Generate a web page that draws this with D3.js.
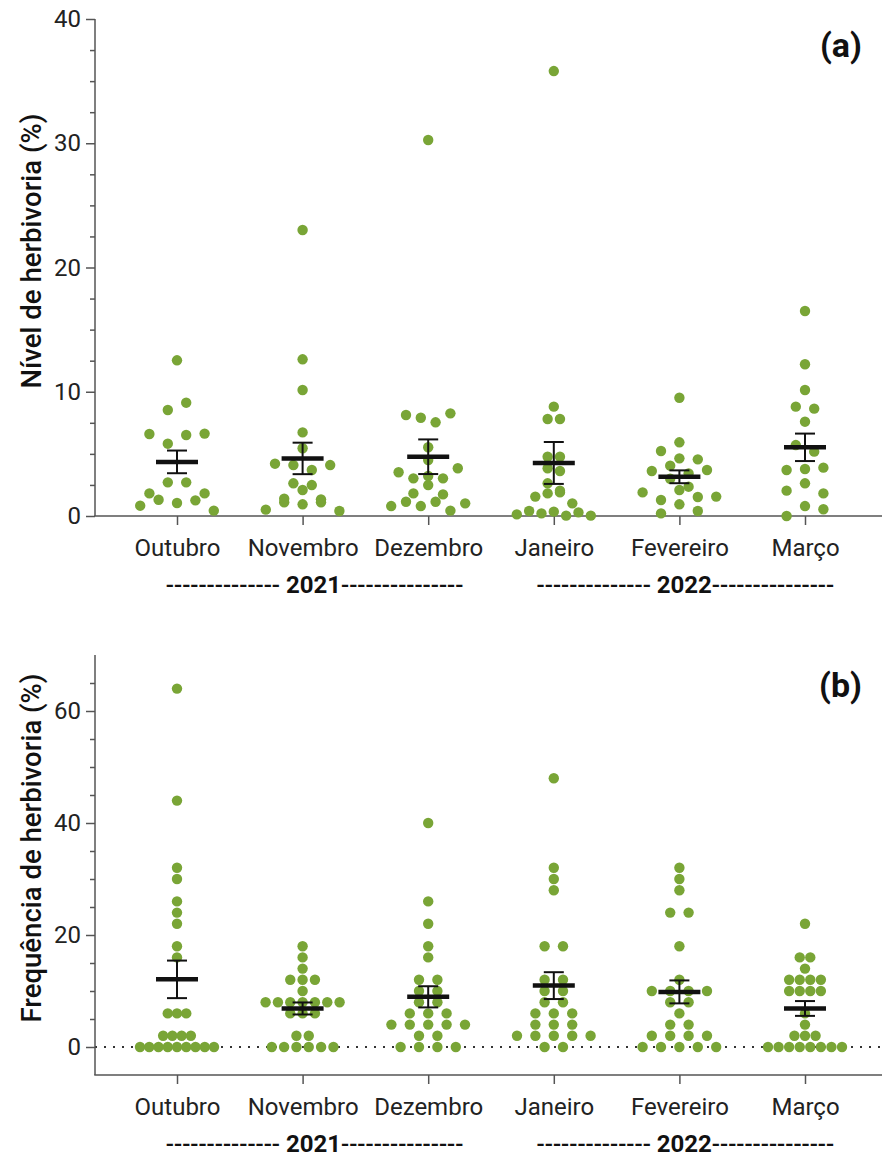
<!DOCTYPE html>
<html><head><meta charset="utf-8">
<script src="https://cdn.jsdelivr.net/npm/d3@7"></script>
<style>
body{margin:0;background:#fff}
text{font-family:Roboto,"Noto Sans",sans-serif}
</style>
</head><body>
<svg id="chart" width="882" height="1157"></svg>
<script>
// ---------- data ----------
const months = ["Outubro","Novembro","Dezembro","Janeiro","Fevereiro","Março"];
const yearLabels = ["2021","2022"];
const yTicksA = [0,10,20,30,40];
const yMinorA = [2.5,5,7.5,12.5,15,17.5,22.5,25,27.5,32.5,35,37.5];
const yTicksB = [0,20,40,60];
const yMinorB = [5,10,15,25,30,35,45,50,55,65];

// (a) Nível de herbivoria (%)
const nivelOutubro  = [0.83,1.31,1.05,1.26,0.43,1.82,2.71,2.71,1.82,6.60,5.82,6.52,6.63,8.53,9.12,12.53];
const nivelNovembro = [0.51,1.10,0.94,1.10,0.40,1.39,2.09,1.34,2.63,2.49,4.21,4.10,3.70,4.10,5.45,6.73,10.14,12.61,23.02];
const nivelDezembro = [0.80,1.15,0.80,1.15,0.43,1.02,1.82,2.49,1.74,3.52,3.03,3.22,3.03,3.84,4.51,5.53,8.13,7.91,7.54,8.26,30.26];
const nivelJaneiro  = [0.13,0.40,0.21,0.35,0.03,0.29,0.03,1.56,1.82,1.90,1.02,2.63,2.04,3.84,3.62,4.77,4.77,7.81,7.81,8.80,35.81];
const nivelFevereiro= [0.21,0.94,0.40,1.90,1.29,2.09,1.53,1.56,3.00,2.36,3.62,4.05,3.43,3.70,5.23,4.64,4.56,5.93,9.52];
const nivelMarco    = [0.00,0.80,0.54,2.04,2.63,1.82,3.70,3.78,3.89,5.71,5.18,7.59,8.80,8.64,10.14,12.21,16.50];

// (b) Frequência de herbivoria (%)
const freqOutubro  = [0,0,0,0,0,0,0,0,0,2,2,2,2,6,6,6,16,18,22,24,26,30,32,44,64];
const freqNovembro = [0,0,0,0,0,0,2,2,6,6,6,8,8,8,8,8,8,8,10,12,12,12,14,16,18];
const freqDezembro = [0,0,0,0,2,2,4,4,4,4,4,6,6,6,8,8,10,10,12,12,16,18,22,26,40];
const freqJaneiro  = [0,0,2,2,2,2,2,4,4,4,6,6,6,8,8,10,10,12,12,18,18,28,30,32,48];
const freqFevereiro= [0,0,0,0,0,2,2,2,2,4,4,6,8,8,10,10,10,10,12,18,24,24,28,30,32];
const freqMarco    = [0,0,0,0,0,0,0,0,2,2,2,4,6,10,10,10,10,12,12,12,12,14,16,16,22];

const nivel = [nivelOutubro,nivelNovembro,nivelDezembro,nivelJaneiro,nivelFevereiro,nivelMarco];
const freq  = [freqOutubro,freqNovembro,freqDezembro,freqJaneiro,freqFevereiro,freqMarco];

// ---------- style ----------
const GREEN = "#79a536";
const AXIS = "#555";
const R = 5.2;
const FS = 24;

const svg = d3.select("#chart");
const x = d3.scalePoint().domain(months).range([177, 805]);
const X0 = 95, X1 = 882;

// row-based dot layout (like a scatter dot plot)
function layout(values, y, h, W, cap) {
  const idx = values.map((v,i)=>i).sort((a,b)=>values[a]-values[b] || a-b);
  const rows = []; let cur = null;
  idx.forEach(i => {
    const py = y(values[i]);
    if (!cur || cur.start - py > h) { cur = {start: py, items: []}; rows.push(cur); }
    cur.items.push(i);
  });
  const m = d3.max(rows, r => r.items.length);
  const s = m > 1 ? Math.min(cap, W/(m-1)) : cap;
  const off = new Array(values.length);
  rows.forEach(r => {
    r.items.sort((a,b)=>a-b);
    const k = r.items.length;
    r.items.forEach((i,j) => off[i] = (j-(k-1)/2)*s);
  });
  return off;
}

function panel(cfg) {
  const y = d3.scaleLinear().domain(cfg.domain).range(cfg.range);
  const g = svg.append("g");

  if (cfg.zeroLine) {
    g.append("line").attr("x1", X0).attr("x2", X1)
      .attr("y1", y(0)).attr("y2", y(0))
      .attr("stroke", "#333").attr("stroke-width", 2)
      .attr("stroke-dasharray", "2,7");
  }

  const ya = g.append("g").attr("transform", `translate(${X0},0)`)
    .call(d3.axisLeft(y).tickValues(cfg.ticks).tickSize(9).tickSizeOuter(0).tickPadding(5).tickFormat(d3.format("d")));
  ya.select(".domain").remove();
  ya.selectAll(".tick line").attr("stroke", AXIS).attr("stroke-width", 1.5);
  ya.selectAll(".tick text").attr("font-size", FS).attr("fill", "#222").attr("font-family", "Roboto");
  const ym = g.append("g").attr("transform", `translate(${X0},0)`)
    .call(d3.axisLeft(y).tickValues(cfg.minor).tickSize(5).tickSizeOuter(0).tickFormat(""));
  ym.select(".domain").remove();
  ym.selectAll(".tick line").attr("stroke", AXIS).attr("stroke-width", 1.5);
  g.append("line").attr("x1", X0).attr("x2", X0)
    .attr("y1", y(cfg.domain[0])).attr("y2", y(cfg.domain[1]))
    .attr("stroke", AXIS).attr("stroke-width", 1.5);

  const yb = y(cfg.domain[0]);
  g.append("line").attr("x1", X0 - 0.75).attr("x2", X1).attr("y1", yb).attr("y2", yb)
    .attr("stroke", AXIS).attr("stroke-width", 1.5);
  const xa = g.append("g").attr("transform", `translate(0,${yb})`)
    .call(d3.axisBottom(x).tickSize(9).tickSizeOuter(0).tickPadding(14));
  xa.select(".domain").remove();
  xa.selectAll(".tick line").attr("stroke", AXIS).attr("stroke-width", 1.5);
  xa.selectAll(".tick text").attr("font-size", FS).attr("fill", "#222").attr("font-family", "Roboto");

  const yearPos = [
    (x(months[0]) + x(months[2]))/2 + 12,
    (x(months[3]) + x(months[5]))/2 + 6
  ];
  yearLabels.forEach((yl, i) => {
    const t = g.append("text").attr("x", yearPos[i]).attr("y", yb + 77)
      .attr("text-anchor", "middle").attr("font-size", FS).attr("fill", "#111");
    t.append("tspan").attr("font-weight", 500).text("--------------");
    t.append("tspan").text(" ");
    t.append("tspan").attr("font-weight", 700).text(yl);
    t.append("tspan").attr("font-weight", 500).text("---------------");
  });

  cfg.data.forEach((vals, ci) => {
    const off = layout(vals, y, cfg.rowH, 74, 18.4);
    const cx = x(months[ci]);
    g.append("g").selectAll("circle").data(vals).join("circle")
      .attr("cx", (d,i) => cx + off[i]).attr("cy", d => y(d))
      .attr("r", R).attr("fill", GREEN);
  });

  cfg.data.forEach((vals, ci) => {
    const cx = x(months[ci]);
    const m = d3.mean(vals);
    const se = d3.deviation(vals) / Math.sqrt(vals.length);
    const eg = g.append("g").attr("stroke", "#111");
    eg.append("line").attr("x1", cx).attr("x2", cx).attr("y1", y(m+se)).attr("y2", y(m-se)).attr("stroke-width", 2);
    [m+se, m-se].forEach(v => eg.append("line").attr("x1", cx-10).attr("x2", cx+10)
      .attr("y1", y(v)).attr("y2", y(v)).attr("stroke-width", 2));
    eg.append("line").attr("x1", cx-21).attr("x2", cx+21).attr("y1", y(m)).attr("y2", y(m)).attr("stroke-width", 4.5);
  });

  g.append("text").attr("transform", `translate(41,${cfg.titleY}) rotate(-90)`)
    .attr("text-anchor", "middle").attr("font-size", 27.5).attr("font-weight", 500)
    .attr("fill", "#111").text(cfg.title);

  g.append("text").attr("x", 862).attr("y", cfg.letterY).attr("text-anchor", "end")
    .attr("font-size", 34).attr("font-weight", 700).attr("fill", "#111").text(cfg.letter);
}

panel({domain:[0,40], range:[516,19], ticks:yTicksA, minor:yMinorA, data:nivel, rowH:11.1,
  zeroLine:false, title:"Nível de herbivoria (%)", titleY:251, letter:"(a)", letterY:57});
panel({domain:[-5,70], range:[1075,655], ticks:yTicksB, minor:yMinorB, data:freq, rowH:8,
  zeroLine:true, title:"Frequência de herbivoria (%)", titleY:848, letter:"(b)", letterY:697});
</script>
</body></html>
